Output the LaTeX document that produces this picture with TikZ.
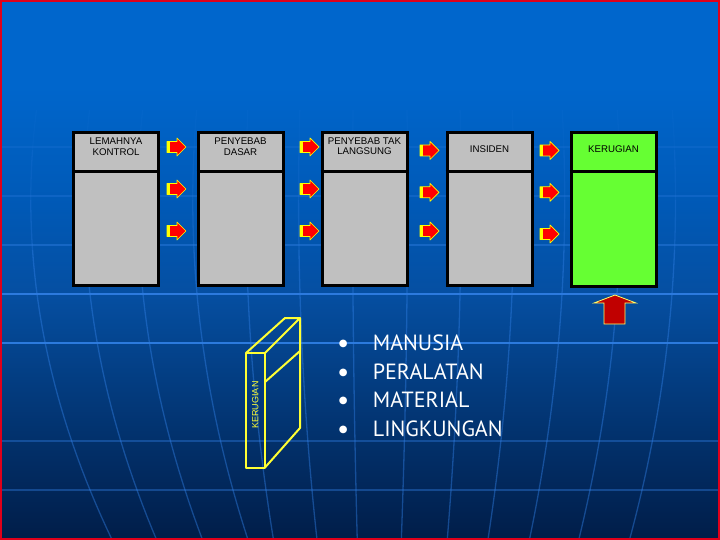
\documentclass[tikz,border=0pt]{standalone}
\usepackage{fontspec}
\setmainfont{Liberation Sans}
\newfontfamily\listfont{PT Sans}
\newfontfamily\symfont{DejaVu Sans}
\definecolor{bgA}{HTML}{0066CC}
\definecolor{bgB}{HTML}{0059B6}
\definecolor{bgC}{HTML}{054FA2}
\definecolor{bgD}{HTML}{02306A}
\definecolor{bgE}{HTML}{011D48}
\definecolor{gridblue}{HTML}{2F7DE2}
\definecolor{boxgray}{HTML}{C0C0C0}
\definecolor{boxgreen}{HTML}{66FF33}
\definecolor{arrred}{HTML}{FF0000}
\definecolor{arryel}{HTML}{FFFF00}
\definecolor{uparred}{HTML}{C00000}
\definecolor{upyel}{HTML}{FFFF66}
\definecolor{domyel}{HTML}{FFFF33}
\definecolor{framered}{HTML}{E0001A}
\pgfdeclareverticalshading{bgshade}{100bp}{color(0bp)=(bgE); color(25bp)=(bgE); color(34bp)=(bgD); color(48bp)=(bgC); color(56bp)=(bgB); color(67bp)=(bgA); color(100bp)=(bgA)}
\begin{document}
\begin{tikzpicture}[x=1pt,y=-1pt,
  boxst/.style={draw=black, line width=3pt, fill=boxgray, minimum width=85pt, minimum height=153pt, inner sep=0pt},
  hdr/.style={font=\fontsize{9.7}{11}\selectfont, text=black, inner sep=0pt, anchor=base},
  listitem/.style={font=\listfont\fontsize{22}{26}\selectfont, text=white, inner sep=0pt, anchor=base west},
  bulletst/.style={font=\symfont\fontsize{10}{12}\selectfont, text=white, inner sep=0pt, anchor=center},
  dom/.style={draw=domyel, line width=2pt, line join=round},
  meridian/.style={draw=gridblue, line width=1.3pt},
  hline/.style={draw=gridblue, line width=1.6pt},
  rarrow/.pic={
    \fill[arrred] (0,-5.5) -- (10,-5.5) -- (10,-9) -- (19,0) -- (10,9) -- (10,5.5) -- (0,5.5) -- cycle;
    \fill[arryel] (0,-5.5) rectangle (3,5.5);
    \draw[arryel, line width=0.7pt, line join=round] (0,-5.5) -- (10,-5.5) -- (10,-9) -- (19,0) -- (10,9) -- (10,5.5) -- (0,5.5) -- cycle;
  }]
\useasboundingbox (0,0) rectangle (720,540);
% background
\shade[shading=bgshade] (0,0) rectangle (720,540);
% horizontal grid lines
\foreach \yy/\op in {147/0.2, 196/0.3, 245/0.45, 294/0.95, 343/0.95, 441/0.4, 490/0.4}
  \draw[hline, opacity=\op] (0,\yy) -- (720,\yy);
% meridians (fading towards the top)
\foreach \xo/\dd in {37/53, 90/47, 143/42, 197/36, 248/18, 300/12, 353/3, 407/-4, 460/-9, 512/-17, 562/-23, 617/-27, 672/-30}{
  \draw[meridian, opacity=0.08] plot[domain=110:150, samples=6, variable=\t] ({\xo + \dd*((((\t-200)/100)^2-0.8836)/7.5264)}, \t);
  \draw[meridian, opacity=0.18] plot[domain=150:200, samples=6, variable=\t] ({\xo + \dd*((((\t-200)/100)^2-0.8836)/7.5264)}, \t);
  \draw[meridian, opacity=0.3] plot[domain=200:250, samples=6, variable=\t] ({\xo + \dd*((((\t-200)/100)^2-0.8836)/7.5264)}, \t);
  \draw[meridian, opacity=0.45] plot[domain=250:540, samples=25, variable=\t] ({\xo + \dd*((((\t-200)/100)^2-0.8836)/7.5264)}, \t);
}
% boxes
\coordinate (div) at (0,172);
\node[boxst] (box1) at (116,209) {};
\node[boxst] (box2) at (240.5,209) {};
\node[boxst] (box3) at (364.5,209) {};
\node[boxst] (box4) at (489.5,209) {};
\node[boxst, fill=boxgreen] (box5) at (613.5,209.5) {};
\foreach \b in {box1,box2,box3,box4,box5}
  \draw[line width=3pt] (\b.west |- div) -- (\b.east |- div);
% headers
\node[hdr] (h1a) at (116,144.5) {LEMAHNYA};
\node[hdr] (h1b) at (116,155.5) {KONTROL};
\node[hdr] (h2a) at (240.5,144.5) {PENYEBAB};
\node[hdr] (h2b) at (240.5,155.5) {DASAR};
\node[hdr] (h3a) at (364.5,144.2) {PENYEBAB TAK};
\node[hdr] (h3b) at (364.5,154.7) {LANGSUNG};
\node[hdr] (h4) at (489.5,152.5) {INSIDEN};
\node[hdr] (h5) at (613.5,152.5) {KERUGIAN};
% small arrows
\foreach \yy in {147,189,231} \pic at (167,\yy) {rarrow};
\foreach \yy in {147,189,231} \pic at (300,\yy) {rarrow};
\foreach \yy in {150.5,192.3,231} \pic at (420,\yy) {rarrow};
\foreach \yy in {150.5,192.3,234} \pic at (540,\yy) {rarrow};
% up arrow
\filldraw[fill=uparred, draw=upyel, line width=0.8pt, line join=miter]
  (604,324) -- (604,303) -- (594,303) -- (615,295) -- (636,303) -- (625,303) -- (625,324) -- cycle;
% domino
\coordinate (fl) at (246,353);
\coordinate (fr) at (265,353);
\coordinate (bl) at (285,318);
\coordinate (br) at (300,318);
\coordinate (frb) at (265,467.5);
\coordinate (brb) at (300,428);
\coordinate (ma) at (265,382);
\coordinate (mb) at (300,351);
\draw[dom] (fl) rectangle (frb);
\draw[dom] (fl) -- (bl) -- (br) -- (fr);
\draw[dom] (br) -- (brb) -- (frb);
\draw[dom] (ma) -- (mb);
\node[rotate=90, text=domyel, font=\fontsize{9}{10}\selectfont, inner sep=0pt] (domtxt) at (255.3,405) {KERUGIAN};
% list
\node[bulletst] (b1) at (343.3,344) {●};
\node[bulletst] (b2) at (343.3,373) {●};
\node[bulletst] (b3) at (343.3,401) {●};
\node[bulletst] (b4) at (343.3,430) {●};
\node[listitem] (l1) at (372.7,350.7) {MANUSIA};
\node[listitem] (l2) at (372.7,379.3) {PERALATAN};
\node[listitem] (l3) at (372.7,407.7) {MATERIAL};
\node[listitem] (l4) at (372.7,436) {LINGKUNGAN};
% frame
\draw[framered, line width=2pt] (1,1) rectangle (719,539);
\end{tikzpicture}
\end{document}
